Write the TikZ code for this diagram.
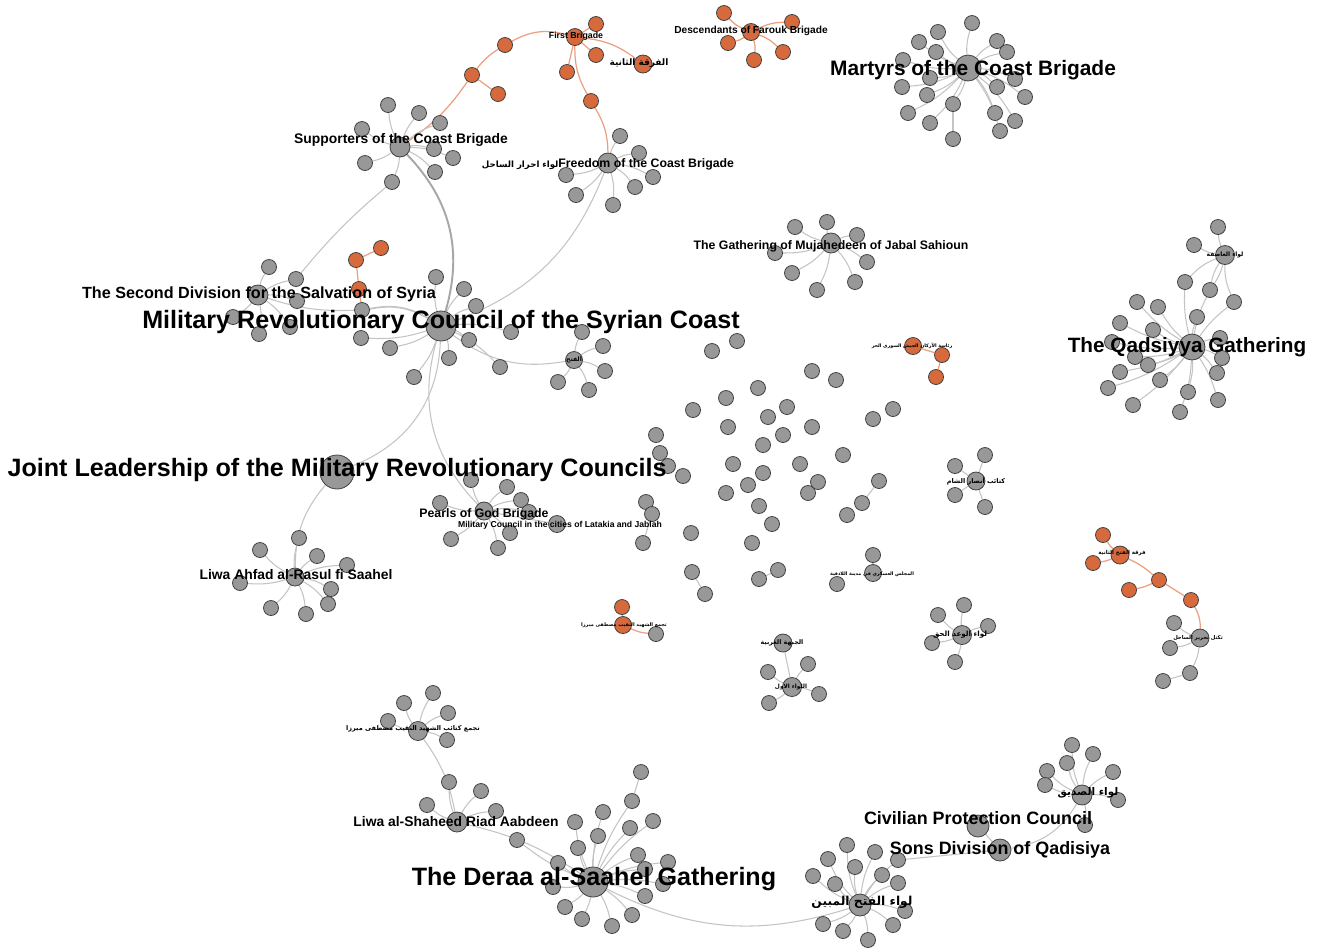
\documentclass[tikz,border=0pt]{standalone}
\usepackage{fontspec}
\setmainfont{Liberation Sans}
\newfontfamily\arfont[Script=Arabic]{DejaVu Sans}
\TeXXeTstate=1
\definecolor{nodegray}{RGB}{152,152,152}
\definecolor{nodeorange}{RGB}{215,106,60}
\definecolor{linkgray}{RGB}{196,196,196}
\definecolor{linkorange}{RGB}{236,160,128}
\pgfdeclarelayer{paper}
\pgfdeclarelayer{links}
\pgfsetlayers{paper,links,main}

\begin{document}
\begin{tikzpicture}[
    x=0.02cm, y=-0.02cm,
    % nodes
    nd/.style={circle, draw=black!75, line width=0.45pt, fill=nodegray, inner sep=0pt, minimum size=#1},
    nd/.default=0.3cm,
    ond/.style={nd=#1, fill=nodeorange},
    ond/.default=0.3cm,
    % labels
    lbl/.style={font=\bfseries\fontsize{#1}{#1}\selectfont, inner sep=0pt},
    arlbl/.style={font=\arfont\bfseries\fontsize{#1}{#1}\selectfont, inner sep=0pt},
    % links
    link/.style={draw=linkgray, line width=0.6pt},
    olink/.style={draw=linkorange, line width=0.7pt},
]
\useasboundingbox (0,0) rectangle (1318,951);
\begin{pgfonlayer}{paper}
\fill[white] (0,0) rectangle (1318,951);
\end{pgfonlayer}

% First Brigade chain (orange)
\node[ond=0.34cm] (fb) at (575,37) {};
\foreach \x/\y [count=\i] in {596/24, 596/55, 567/72, 591/101, 505/45, 472/75, 498/94}
  \node[ond] (fb\i) at (\x,\y) {};
\node[ond=0.36cm] (fb8) at (643,64) {};

% Descendants of Farouk
\node[ond=0.34cm] (df) at (751,32) {};
\foreach \x/\y [count=\i] in {724/13, 792/22, 728/43, 754/60, 783/52}
  \node[ond] (df\i) at (\x,\y) {};

% Martyrs of the Coast
\node[nd=0.52cm] (mar) at (968,68) {};
\foreach \x/\y [count=\i] in {972/23, 938/32, 919/42, 936/52, 903/60, 902/87, 930/78, 927/95,
    908/113, 930/123, 953/104, 997/41, 1007/52, 1015/79, 997/87, 1025/97, 995/113, 1015/121,
    1000/131, 953/139}
  \node[nd] (mar\i) at (\x,\y) {};

% Supporters of the Coast
\node[nd=0.4cm] (sup) at (400,147) {};
\foreach \x/\y [count=\i] in {388/105, 419/113, 440/123, 362/129, 434/149, 453/158, 365/163, 435/172, 392/182}
  \node[nd] (sup\i) at (\x,\y) {};

% Freedom of the Coast
\node[nd=0.4cm] (fr) at (608,163) {};
\foreach \x/\y [count=\i] in {620/136, 639/153, 653/177, 635/187, 613/205, 576/195, 566/175}
  \node[nd] (fr\i) at (\x,\y) {};

% Second Division
\node[nd=0.4cm] (sd) at (258,295) {};
\foreach \x/\y [count=\i] in {269/267, 296/279, 297/301, 233/317, 290/327, 259/334}
  \node[nd] (sd\i) at (\x,\y) {};
\node[ond] (og1) at (381,248) {};
\node[ond] (og2) at (356,260) {};
\node[ond] (og3) at (359,289) {};
\node[nd] (gx) at (362,310) {};

% Military Revolutionary Council
\node[nd=0.6cm] (mrc) at (441,326) {};
\foreach \x/\y [count=\i] in {436/277, 464/289, 476/306, 511/332, 469/340, 390/348, 449/358, 500/367, 414/377, 361/338}
  \node[nd] (mrc\i) at (\x,\y) {};
\node[nd=0.34cm] (fth) at (574,360) {};
\foreach \x/\y [count=\i] in {582/332, 603/346, 605/371, 589/390, 558/382}
  \node[nd] (fth\i) at (\x,\y) {};

% Joint Leadership, Pearls, Liwa Ahfad
\node[nd=0.68cm] (jl) at (337,472) {};
\node[nd=0.36cm] (pg) at (484,511) {};
\foreach \x/\y [count=\i] in {471/480, 507/487, 440/503, 521/500, 529/512, 510/533, 451/539, 498/548}
  \node[nd] (pg\i) at (\x,\y) {};
\node[nd=0.34cm] (mc) at (557,524) {};
\node[nd=0.36cm] (la) at (295,577) {};
\foreach \x/\y [count=\i] in {260/550, 299/538, 317/556, 347/565, 240/583, 331/589, 328/604, 271/608, 306/614}
  \node[nd] (la\i) at (\x,\y) {};

% Mujahedeen of Jabal Sahioun
\node[nd=0.4cm] (mj) at (831,243) {};
\foreach \x/\y [count=\i] in {827/222, 795/227, 857/235, 775/253, 867/262, 792/273, 855/282, 817/290}
  \node[nd] (mj\i) at (\x,\y) {};

% Qadsiyya
\node[nd=0.52cm] (qa) at (1192,347) {};
\node[nd=0.38cm] (qs) at (1225,255) {};
\node[nd] (qs1) at (1218,227) {};
\node[nd] (qs2) at (1194,245) {};
\foreach \x/\y [count=\i] in {1185/282, 1210/290, 1234/302, 1137/302, 1158/307, 1197/317, 1120/323,
    1153/330, 1220/338, 1112/342, 1135/357, 1222/358, 1148/365, 1217/373, 1120/372, 1160/380,
    1108/388, 1188/392, 1218/400, 1133/405, 1180/412}
  \node[nd] (qa\i) at (\x,\y) {};

% Free Syrian Army staff (orange)
\node[ond=0.34cm] (rg1) at (913,346) {};
\node[ond] (rg2) at (942,355) {};
\node[ond] (rg3) at (936,377) {};

% loose nodes in the middle
\foreach \x/\y [count=\i] in {712/351, 737/341, 812/371, 836/380, 758/388, 726/398, 693/410, 787/407,
    768/417, 812/427, 728/427, 783/435, 656/435, 763/445, 893/409, 873/419, 660/453, 668/466,
    683/476, 733/464, 800/464, 843/455, 763/473, 748/485, 818/482, 808/493, 726/493, 759/506,
    691/533, 772/524, 752/543, 646/502, 652/514, 643/543, 692/572, 705/594, 778/570, 759/579,
    837/584, 847/515}
  \node[nd] (sc\i) at (\x,\y) {};
\node[nd] (rl) at (879,481) {};
\node[nd] (rl1) at (862,503) {};
\node[nd=0.34cm] (mcl) at (873,573) {};
\node[nd] (mcl1) at (873,555) {};
\node[nd=0.36cm] (shm) at (976,481) {};
\foreach \x/\y [count=\i] in {955/466, 985/455, 955/495, 985/507}
  \node[nd] (shm\i) at (\x,\y) {};

% Mirza (orange), western front, Wa'd al-Haq
\node[ond=0.34cm] (mz) at (623,625) {};
\node[ond] (mz1) at (622,607) {};
\node[nd] (mz2) at (656,634) {};
\node[nd=0.36cm] (wf) at (783,643) {};
\node[nd=0.38cm] (ll) at (792,687) {};
\foreach \x/\y [count=\i] in {808/664, 768/672, 819/694, 769/703}
  \node[nd] (ll\i) at (\x,\y) {};
\node[nd=0.38cm] (wd) at (962,635) {};
\foreach \x/\y [count=\i] in {964/605, 938/615, 988/626, 932/643, 955/662}
  \node[nd] (wd\i) at (\x,\y) {};

% Second Fath Division (orange) and Coast Liberation bloc
\node[ond=0.36cm] (fd) at (1120,555) {};
\foreach \x/\y [count=\i] in {1103/535, 1093/563, 1159/580, 1129/590, 1191/600}
  \node[ond] (fd\i) at (\x,\y) {};
\node[nd=0.36cm] (tk) at (1200,638) {};
\foreach \x/\y [count=\i] in {1174/623, 1170/648, 1190/673, 1163/681}
  \node[nd] (tk\i) at (\x,\y) {};

% south-west: Mirza battalions, Riad Aabdeen, Deraa al-Saahel
\node[nd=0.38cm] (tj) at (418,731) {};
\foreach \x/\y [count=\i] in {433/693, 404/703, 448/713, 388/721, 447/740}
  \node[nd] (tj\i) at (\x,\y) {};
\node[nd=0.4cm] (rs) at (457,822) {};
\foreach \x/\y [count=\i] in {449/782, 481/791, 427/805, 496/811}
  \node[nd] (rs\i) at (\x,\y) {};
\node[nd=0.6cm] (dr) at (593,882) {};
\foreach \x/\y [count=\i] in {641/772, 632/801, 603/812, 575/822, 653/821, 630/828, 598/836, 517/840,
    578/848, 638/855, 668/862, 558/863, 645/869, 663/884, 553/887, 645/896, 565/907, 632/915,
    582/919, 612/926}
  \node[nd] (dr\i) at (\x,\y) {};

% south-east: Fath al-Mubin, Sons, Civilian Protection, Sadiq
\node[nd=0.44cm] (fm) at (860,905) {};
\foreach \x/\y [count=\i] in {847/845, 875/852, 828/859, 898/860, 855/867, 813/876, 882/875, 835/884,
    898/883, 905/911, 823/924, 893/925, 843/931, 868/940}
  \node[nd] (fm\i) at (\x,\y) {};
\node[nd=0.44cm] (sn) at (1000,850) {};
\node[nd=0.44cm] (cv) at (978,826) {};
\node[nd=0.4cm] (sq) at (1082,795) {};
\foreach \x/\y [count=\i] in {1072/745, 1093/754, 1067/763, 1113/772, 1047/771, 1045/785, 1118/800, 1085/825}
  \node[nd] (sq\i) at (\x,\y) {};

\begin{pgfonlayer}{links}
% orange chain at the top
\foreach \i in {1,2,3} \draw[olink] (fb) -- (fb\i);
\draw[olink] (fb) to[bend right=15] (fb4);
\draw[olink] (fb) to[bend right=22] (fb5);
\draw[olink] (fb5) to[bend right=10] (fb6);
\draw[olink] (fb6) -- (fb7);
\draw[olink] (fb) to[bend left=15] (fb8);
\draw[olink] (fb4) to[bend left=15] (fr);
\draw[olink] (fb6) to[bend left=10] (sup);
\foreach \i in {1,...,5} \draw[olink] (df) to[bend left=12] (df\i);
% hubs and their spokes
\foreach \i in {1,...,19} \draw[link] (mar) to[bend left=10] (mar\i);
\draw[link] (mar11) -- (mar20);
\foreach \i in {1,...,9} \draw[link] (sup) to[bend left=10] (sup\i);
\foreach \i in {1,...,7} \draw[link] (fr) to[bend left=10] (fr\i);
\foreach \i in {1,...,6} \draw[link] (sd) to[bend left=10] (sd\i);
\foreach \i in {1,...,10} \draw[link] (mrc) to[bend left=10] (mrc\i);
\foreach \i in {1,...,5} \draw[link] (fth) to[bend left=10] (fth\i);
\foreach \i in {1,...,8} \draw[link] (pg) to[bend left=10] (pg\i);
\foreach \i in {1,...,9} \draw[link] (la) to[bend left=10] (la\i);
\foreach \i in {1,...,8} \draw[link] (mj) to[bend left=10] (mj\i);
\foreach \i in {1,...,21} \draw[link] (qa) to[bend left=8] (qa\i);
\foreach \i in {1,2} \draw[link] (qs) to[bend left=10] (qs\i);
\foreach \i in {1,2,3} \draw[link] (qs) to[bend right=12] (qa\i);
\foreach \i in {1,...,4} \draw[link] (shm) -- (shm\i);
\foreach \i in {1,...,4} \draw[link] (ll) to[bend left=8] (ll\i);
\foreach \i in {1,...,5} \draw[link] (wd) to[bend left=8] (wd\i);
\foreach \i in {1,...,5} \draw[link] (tj) to[bend left=10] (tj\i);
\foreach \i in {1,...,4} \draw[link] (rs) to[bend left=10] (rs\i);
\foreach \i in {2,...,20} \draw[link] (dr) to[bend left=8] (dr\i);
\draw[link] (dr1) -- (dr2);
\foreach \i in {1,...,14} \draw[link] (fm) to[bend left=10] (fm\i);
\foreach \i in {1,...,8} \draw[link] (sq) to[bend left=10] (sq\i);
% ties between groups
\draw[link, line width=1.1pt, draw=linkgray!85!black] (sup) to[bend left=30] (mrc);
\draw[link] (sup9) to[bend right=5] (sd2);
\draw[link] (fr) to[bend left=24] (mrc);
\draw[link, line width=1pt] (gx) to[bend left=20] (mrc);
\draw[link] (sd) to[bend right=10] (gx);
\draw[olink] (og1) -- (og2);
\draw[olink] (og2) -- (og3);
\draw[olink] (og3) -- (gx);
\draw[link] (mrc) to[bend right=23] (fth);
\draw[link] (mrc) to[bend left=33] (jl);
\draw[link] (mrc) to[bend right=30] (pg);
\draw[link] (jl) to[bend right=20] (la);
\draw[link] (pg) -- (mc);
\draw[link] (qs) to[bend left=10] (qa2);
\draw[olink] (rg1) -- (rg2);
\draw[olink] (rg2) -- (rg3);
\draw[link] (sc33) -- (sc34);
\draw[link] (sc35) -- (sc36);
\draw[link] (sc37) -- (sc38);
\draw[link] (rl) -- (rl1);
\draw[link] (mcl) -- (mcl1);
\draw[olink] (mz) -- (mz1);
\draw[olink] (mz) to[bend right=10] (mz2);
\draw[link] (ll) -- (wf);
\foreach \i in {1,2,3} \draw[olink] (fd) to[bend left=8] (fd\i);
\draw[olink] (fd3) to[bend left=8] (fd4);
\draw[olink] (fd3) -- (fd5);
\draw[olink] (fd5) to[bend left=15] (tk);
\foreach \i in {1,2,3} \draw[link] (tk) to[bend left=10] (tk\i);
\draw[link] (tk3) -- (tk4);
\draw[link] (tj) to[bend left=12] (rs);
\draw[link] (rs) to[bend left=10] (dr);
\draw[link] (dr) to[bend right=22] (fm);
\draw[link] (fm4) -- (sn);
\draw[link] (cv) -- (sn);
\draw[link] (sq) to[bend left=25] (sn);
\end{pgfonlayer}

% group names
\node[lbl=14.3] (mrcL) at (441,322) {Military Revolutionary Council of the Syrian Coast};
\node[lbl=14.3] (jlL) at (337,470) {Joint Leadership of the Military Revolutionary Councils};
\node[lbl=14.3] (drL) at (594,879) {The Deraa al-Saahel Gathering};
\node[lbl=11.9] (marL) at (973,70) {Martyrs of the Coast Brigade};
\node[lbl=11.8] (qaL) at (1187,347) {The Qadsiyya Gathering};
\node[lbl=10.2] (cvL) at (978,818) {Civilian Protection Council};
\node[lbl=10.2] (snL) at (1000,850) {Sons Division of Qadisiya};
\node[lbl=9.2] (sdL) at (259,294) {The Second Division for the Salvation of Syria};
\node[lbl=7.9] (supL) at (401,140) {Supporters of the Coast Brigade};
\node[lbl=7.9] (rsL) at (456,822) {Liwa al-Shaheed Riad Aabdeen};
\node[lbl=7.9] (laL) at (296,575) {Liwa Ahfad al-Rasul fi Saahel};
\node[lbl=7] (frL) at (608,164) {{\arfont\fontsize{4.9}{5}\selectfont\beginR لواء احرار الساحل\endR}Freedom of the Coast Brigade};
\node[lbl=7] (mjL) at (831,246) {The Gathering of Mujahedeen of Jabal Sahioun};
\node[lbl=7] (pgL) at (484,514) {Pearls of God Brigade};
\node[lbl=5] (fbL) at (576,36) {First Brigade};
\node[lbl=5.8] (dfL) at (751,31) {Descendants of Farouk Brigade};
\node[lbl=4.9] (mcL) at (560,525) {Military Council in the cities of Latakia and Jablah};

\node[arlbl=7] (fmL) at (862,902) {\beginR لواء الفتح المبين\endR};
\node[arlbl=6] (sqL) at (1088,793) {\beginR لواء الصديق\endR};
\node[arlbl=3.7] (tjL) at (413,729) {\beginR تجمع كتائب الشهيد النقيب مصطفى ميرزا\endR};
\node[arlbl=5.1] (fb8L) at (639,63) {\beginR الفرقة الثانية\endR};
\node[arlbl=3.4] (qsL) at (1225,255) {\beginR لواء العاصفة\endR};
\node[arlbl=3] (tkL) at (1198,638) {\beginR تكتل تحرير الساحل\endR};
\node[arlbl=3.1] (fdL) at (1122,553) {\beginR فرقة الفتح الثانية\endR};
\node[arlbl=3.6] (wfL) at (782,643) {\beginR الجبهة الغربية\endR};
\node[arlbl=3.3] (llL) at (791,687) {\beginR اللواء الاول\endR};
\node[arlbl=4.1] (wdL) at (960,635) {\beginR لواء الوعد الحق\endR};
\node[arlbl=2.7] (rgL) at (912,346) {\beginR رئاسة الأركان الجيش السوري الحر\endR};
\node[arlbl=3.5] (fthL) at (574,360) {\beginR الفتح\endR};
\node[arlbl=2.7] (mclL) at (872,574) {\beginR المجلس العسكري في مدينة اللاذقية\endR};
\node[arlbl=2.8] (mzL) at (624,625) {\beginR تجمع الشهيد النقيب مصطفى ميرزا\endR};
\node[arlbl=3.7] (shmL) at (976,481) {\beginR كتائب أنصار الشام\endR};
\end{tikzpicture}
\end{document}
